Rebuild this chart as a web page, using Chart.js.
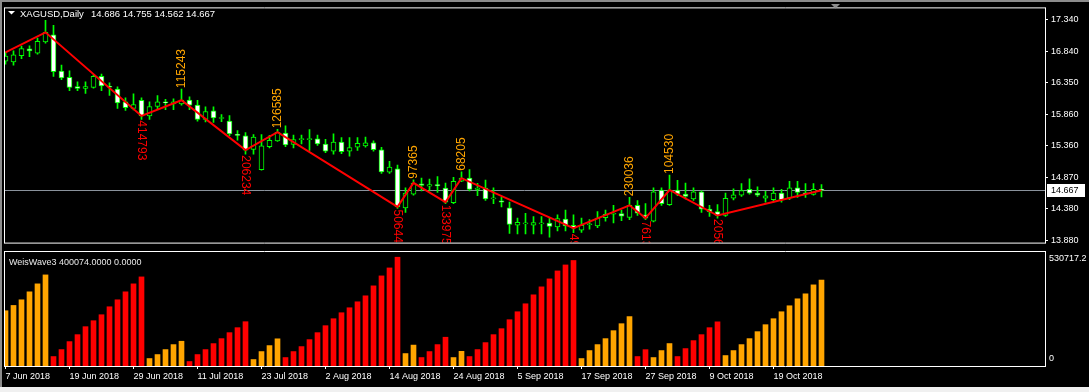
<!DOCTYPE html>
<html><head><meta charset="utf-8">
<script src="https://cdn.jsdelivr.net/npm/chart.js@4.4.0/dist/chart.umd.min.js"></script>
<style>
html,body{margin:0;padding:0;background:#000;width:1089px;height:392px;overflow:hidden;position:relative}
canvas{position:absolute;left:0}
#c1{top:0}
#c2{top:251px}
#topbar{position:absolute;left:0;top:0;width:1089px;height:2px;background:#8c8c8c}
#leftbar{position:absolute;left:0;top:0;width:2px;height:392px;background:#8c8c8c}
#bottom{position:absolute;left:0;top:387px;width:1089px;height:5px;background:#f0f0f0}
</style></head>
<body>
<canvas id="c1" width="1089" height="251" style="width:1089px;height:251px"></canvas>
<canvas id="c2" width="1089" height="136" style="width:1089px;height:136px"></canvas>
<div id="topbar"></div><div id="leftbar"></div><div id="bottom"></div>
<script>
// ---------- DATA ----------
const symbol = 'XAGUSD,Daily';
const tickLabels = ['7 Jun 2018','19 Jun 2018','29 Jun 2018','11 Jul 2018','23 Jul 2018','2 Aug 2018','14 Aug 2018','24 Aug 2018','5 Sep 2018','17 Sep 2018','27 Sep 2018','9 Oct 2018','19 Oct 2018'];
const tickBars = [0,8,16,24,32,40,48,56,64,72,80,88,96];
const priceTicks = [13.88,14.38,14.87,15.36,15.86,16.35,16.84,17.34];
const opens = [16.69,16.676,16.776,16.88,16.815,16.99,17.1,16.535,16.436,16.29,
16.26,16.276,16.45,16.29,16.25,16.05,15.95,16.075,15.83,15.98,
16.04,16.02,16.02,16.08,16.0,15.776,15.91,15.79,15.75,15.53,
15.52,15.305,14.99,15.35,15.44,15.56,15.385,15.46,15.46,15.47,
15.39,15.28,15.42,15.28,15.34,15.36,15.41,15.3,14.95,15.0,
14.39,14.605,14.765,14.73,14.755,14.7,14.47,14.81,14.855,14.68,
14.7,14.53,14.5,14.39,14.12,14.14,14.12,14.14,14.15,14.09,
14.215,14.115,14.04,14.125,14.105,14.235,14.29,14.3,14.24,14.43,
14.28,14.18,14.67,14.44,14.67,14.605,14.53,14.64,14.37,14.33,
14.27,14.54,14.59,14.68,14.62,14.54,14.52,14.62,14.545,14.705,
14.62,14.6,14.686];
const highs = [16.83,16.85,16.926,16.93,17.05,17.33,17.25,16.626,16.536,16.365,
16.365,16.476,16.486,16.35,16.285,16.115,16.175,16.115,16.05,16.15,
16.09,16.1,16.25,16.13,16.076,15.975,15.975,15.85,15.835,15.6,
15.57,15.54,15.54,15.525,15.62,15.675,15.53,15.53,15.615,15.53,
15.465,15.55,15.49,15.49,15.49,15.5,15.44,15.34,15.12,15.06,
14.705,14.83,14.855,14.84,14.88,14.78,14.87,14.955,14.99,14.775,
14.825,14.705,14.555,14.48,14.23,14.305,14.255,14.255,14.23,14.28,
14.355,14.28,14.23,14.205,14.33,14.355,14.43,14.355,14.555,14.505,
14.455,14.705,14.705,14.905,14.82,14.78,14.705,14.655,14.43,14.44,
14.62,14.69,14.77,14.845,14.72,14.65,14.705,14.68,14.805,14.805,
14.77,14.77,14.755];
const lows = [16.64,16.626,16.726,16.76,16.8,16.97,16.45,16.4,16.226,16.225,
16.185,16.266,16.226,16.15,15.95,15.915,15.925,15.777,15.777,15.93,
15.93,15.93,16.0,15.93,15.75,15.738,15.727,15.74,15.52,15.45,
15.23,15.23,14.98,15.33,15.43,15.35,15.33,15.39,15.29,15.37,
15.255,15.23,15.24,15.2,15.29,15.34,15.28,14.93,14.93,14.38,
14.32,14.59,14.655,14.655,14.63,14.455,14.455,14.8,14.655,14.58,
14.505,14.455,14.405,13.99,13.98,13.98,13.98,13.98,13.93,14.03,
14.03,14.0,14.005,14.055,14.08,14.18,14.155,14.19,14.205,14.27,
14.205,14.17,14.43,14.43,14.58,14.53,14.505,14.32,14.255,14.23,
14.255,14.515,14.57,14.605,14.57,14.48,14.48,14.48,14.52,14.555,
14.555,14.59,14.562];
const closes = [16.77,16.786,16.886,16.85,17.0,17.14,16.525,16.426,16.276,16.26,
16.29,16.45,16.3,16.28,16.035,15.96,16.01,15.83,15.976,16.05,
16.035,16.05,16.077,16.0,15.776,15.9,15.8,15.8,15.55,15.525,
15.295,15.5,15.36,15.45,15.575,15.378,15.46,15.465,15.465,15.39,
15.28,15.42,15.27,15.335,15.4,15.41,15.3,14.955,15.03,14.405,
14.62,14.78,14.74,14.755,14.735,14.48,14.805,14.855,14.68,14.7,
14.53,14.535,14.48,14.13,14.165,14.145,14.16,14.145,14.1,14.22,
14.105,14.07,14.115,14.14,14.23,14.29,14.295,14.26,14.43,14.305,
14.23,14.64,14.455,14.67,14.605,14.57,14.64,14.37,14.33,14.27,
14.54,14.595,14.66,14.62,14.59,14.58,14.62,14.52,14.705,14.63,
14.61,14.68,14.667];
const weis = [257243,281950,308228,345308,382388,424103,
44033,76478,113558,146003,183083,210893,238703,275783,308228,345308,382388,414793,
34763,53303,76478,99653,115243,
20858,53303,76478,104288,127463,155273,178448,206234,
30128,67208,95018,126585,
39398,67208,90383,122828,155273,187718,220163,247973,271148,298958,326768,373118,419468,456548,506443,
57938,97365,
39398,67208,99653,133975,
39398,68205,
44033,76478,108923,146003,173813,215528,252608,289688,331403,368483,405563,442643,470453,491205,
34763,71843,99653,127463,164543,196988,230036,
44033,76134,
39398,71843,104530,
44033,81113,118193,146003,178448,205634,
48668,71843,99653,127463,159908,192353,220163,252608,280418,312863,336038,377753,400074];
const weisMax = 530717.2;
const zigStart = 16.826;             // zigzag level where it enters the chart at the first bar
const pivotBars = [5,17,22,30,34,49,51,55,57,71,78,80,83,89,102]; // alternating peak / trough
const labelBars = [17,22,30,34,49,51,55,57,71,78,80,83,89];

// ---------- DERIVED ----------
const N = closes.length;
const idx = [...Array(N).keys()];
const isPeak = b => pivotBars.indexOf(b) % 2 === 0;
const waveUp = idx.map(k => isPeak(pivotBars.find(p => p >= k)));
const zig = [{x:0, y:zigStart}].concat(pivotBars.map(b => ({x:b, y:closes[b]})));

const LIME = '#00FF00';
const FONT = "'Liberation Sans', Arial, sans-serif";
Chart.defaults.font.family = FONT;
Chart.defaults.font.size = 9;
Chart.defaults.color = '#ffffff';
const XMIN = -0.1875, XMAX = 129.9375;

const frame = (ctx, a) => {
  ctx.save(); ctx.strokeStyle = '#ffffff'; ctx.lineWidth = 1; ctx.beginPath();
  ctx.moveTo(a.left + 0.5, a.top - 0.5); ctx.lineTo(a.left + 0.5, a.bottom + 0.5);
  ctx.moveTo(a.right + 0.5, a.top - 0.5); ctx.lineTo(a.right + 0.5, a.bottom + 0.5);
  ctx.moveTo(a.left, a.top - 0.5); ctx.lineTo(a.right + 1, a.top - 0.5);
  ctx.moveTo(a.left, a.bottom + 0.5); ctx.lineTo(a.right + 1, a.bottom + 0.5);
  ctx.stroke(); ctx.restore();
};

const mainPlugin = {
  id: 'mainDeco',
  beforeDatasetsDraw(chart) {
    const {ctx, chartArea: a, scales: {y}} = chart;
    const py = Math.round(y.getPixelForValue(closes[N-1])) + 0.5;
    ctx.save(); ctx.strokeStyle = '#8a929c'; ctx.lineWidth = 1;
    ctx.beginPath(); ctx.moveTo(a.left, py); ctx.lineTo(a.right, py); ctx.stroke(); ctx.restore();
  },
  afterDatasetsDraw(chart) {
    const {ctx, chartArea: a, scales: {x, y}} = chart;
    ctx.save();
    ctx.beginPath(); ctx.rect(a.left, a.top, a.right - a.left, a.bottom - a.top); ctx.clip();
    ctx.font = '12px ' + FONT; ctx.textBaseline = 'middle'; ctx.textAlign = 'left';
    labelBars.forEach(b => {
      const px = x.getPixelForValue(b);
      const txt = String(weis[b]);
      ctx.save();
      if (isPeak(b)) {
        ctx.fillStyle = '#FFA500';
        ctx.translate(px, y.getPixelForValue(highs[b]) - 1);
        ctx.rotate(-Math.PI / 2);
      } else {
        ctx.fillStyle = '#FF0000';
        ctx.translate(px, y.getPixelForValue(lows[b]) + 1);
        ctx.rotate(Math.PI / 2);
      }
      ctx.fillText(txt, 0, 0);
      ctx.restore();
    });
    ctx.restore();
  },
  afterDraw(chart) {
    const {ctx, chartArea: a, scales: {y}} = chart;
    frame(ctx, a);
    ctx.save();
    // title
    ctx.fillStyle = '#ffffff';
    ctx.beginPath(); ctx.moveTo(8, 11); ctx.lineTo(15, 11); ctx.lineTo(11.5, 14.5); ctx.closePath(); ctx.fill();
    ctx.font = '9.5px ' + FONT; ctx.textBaseline = 'alphabetic'; ctx.textAlign = 'left';
    ctx.fillText(symbol, 20, 16.5);
    const L = N - 1;
    ctx.fillText([opens[L], highs[L], lows[L], closes[L]].map(v => v.toFixed(3)).join(' '), 91, 16.5);
    // shift marker
    ctx.fillStyle = '#8c8c8c';
    ctx.beginPath(); ctx.moveTo(831, 4); ctx.lineTo(840, 4); ctx.lineTo(835.5, 8.5); ctx.closePath(); ctx.fill();
    // bid label
    const py = Math.round(y.getPixelForValue(closes[L]));
    ctx.fillStyle = '#ffffff'; ctx.fillRect(1047, py - 6, 38, 13);
    ctx.fillStyle = '#000000'; ctx.font = '9px ' + FONT; ctx.textBaseline = 'middle';
    ctx.fillText(closes[L].toFixed(3), 1051, py + 0.5);
    ctx.restore();
  }
};

new Chart(document.getElementById('c1'), {
  type: 'bar',
  data: {
    datasets: [
      { type: 'line', data: zig, borderColor: '#FF0000', borderWidth: 2, pointRadius: 0, tension: 0, order: 0 },
      { data: idx.map(k => ({x: k, y: [opens[k], closes[k]]})),
        backgroundColor: idx.map(k => closes[k] >= opens[k] ? '#000000' : '#ffffff'),
        borderColor: LIME, borderWidth: 1, borderSkipped: false,
        barThickness: 5, maxBarThickness: 5, minBarLength: 1, grouped: false, order: 1 },
      { data: idx.map(k => ({x: k, y: [lows[k], highs[k]]})),
        backgroundColor: LIME, borderWidth: 0,
        barThickness: 1, maxBarThickness: 1, grouped: false, order: 2 }
    ]
  },
  options: {
    responsive: false, animation: false, devicePixelRatio: 1,
    layout: { padding: { left: 4, top: 4, right: 0, bottom: 2 } },
    plugins: { legend: { display: false }, tooltip: { enabled: false } },
    scales: {
      x: { type: 'linear', min: XMIN, max: XMAX, display: false, offset: false, grid: { offset: false } },
      y: { position: 'right', min: 13.8455, max: 17.5155,
        afterBuildTicks: s => { s.ticks = priceTicks.map(v => ({value: v})); },
        afterFit: s => { s.width = 44; },
        ticks: { color: '#ffffff', padding: 3, callback: v => Number(v).toFixed(3), font: { size: 9 } },
        grid: { drawOnChartArea: false, drawTicks: true, tickLength: 3, color: '#ffffff' },
        border: { display: false } }
    }
  },
  plugins: [mainPlugin]
});

const subPlugin = {
  id: 'subDeco',
  afterDraw(chart) {
    const {ctx, chartArea: a, scales: {y}} = chart;
    frame(ctx, a);
    ctx.save();
    ctx.fillStyle = '#e8e8e8'; ctx.font = '9px ' + FONT; ctx.textAlign = 'left'; ctx.textBaseline = 'alphabetic';
    ctx.fillText('WeisWave3 ' + weis[N-1].toFixed(4) + ' 0.0000', 9, 13.5);
    ctx.fillStyle = '#ffffff'; ctx.textBaseline = 'middle';
    ctx.fillText(String(weisMax), 1049, y.getPixelForValue(weisMax) + 7);
    ctx.fillText('0', 1049, y.getPixelForValue(0) - 7);
    ctx.restore();
  }
};

new Chart(document.getElementById('c2'), {
  type: 'bar',
  data: {
    datasets: [{
      data: idx.map(k => ({x: k, y: weis[k]})),
      backgroundColor: idx.map(k => waveUp[k] ? '#FFA500' : '#FF0000'),
      borderWidth: 0, barThickness: 5, maxBarThickness: 5, grouped: false
    }]
  },
  options: {
    responsive: false, animation: false, devicePixelRatio: 1,
    layout: { padding: { left: 4, top: 1, right: 0, bottom: 0 } },
    plugins: { legend: { display: false }, tooltip: { enabled: false } },
    scales: {
      x: { type: 'linear', min: XMIN, max: XMAX, offset: false,
        afterBuildTicks: s => { s.ticks = tickBars.map(v => ({value: v})); },
        afterFit: s => { s.height = 21; },
        ticks: { color: '#ffffff', align: 'start', autoSkip: false, maxRotation: 0, minRotation: 0, padding: 2,
          callback: (v, i) => tickLabels[i], font: { size: 9 } },
        grid: { offset: false, drawOnChartArea: false, drawTicks: true, tickLength: 3, color: '#ffffff' },
        border: { display: false } },
      y: { position: 'right', min: 0, max: weisMax,
        afterFit: s => { s.width = 44; },
        ticks: { display: false }, grid: { display: false }, border: { display: false } }
    }
  },
  plugins: [subPlugin]
});
</script>
</body></html>
